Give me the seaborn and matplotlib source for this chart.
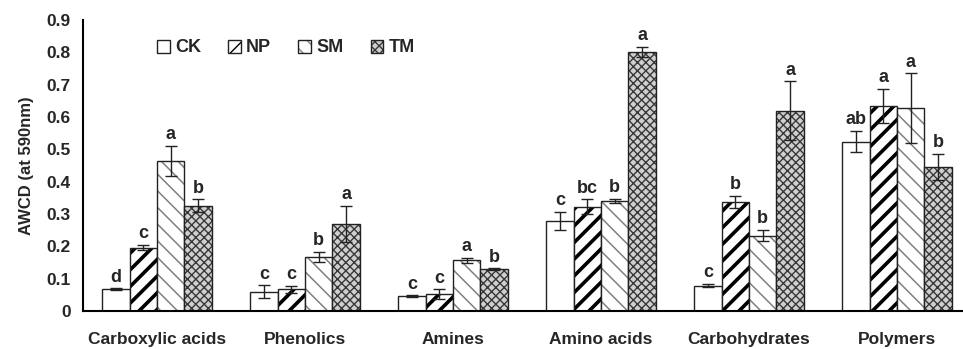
import pandas as pd
import seaborn as sns
import matplotlib.pyplot as plt
from matplotlib.colors import to_rgba
from matplotlib.patches import Patch

# data
categories = ["Carboxylic acids", "Phenolics", "Amines", "Amino acids", "Carbohydrates", "Polymers"]
treatments = ["CK", "NP", "SM", "TM"]

ck_mean = [0.067, 0.060, 0.046, 0.278, 0.078, 0.524]
np_mean = [0.196, 0.067, 0.052, 0.323, 0.337, 0.634]
sm_mean = [0.464, 0.167, 0.157, 0.340, 0.233, 0.627]
tm_mean = [0.326, 0.270, 0.130, 0.802, 0.620, 0.446]

ck_err = [0.003, 0.019, 0.002, 0.029, 0.005, 0.033]
np_err = [0.008, 0.011, 0.015, 0.022, 0.019, 0.053]
sm_err = [0.047, 0.015, 0.007, 0.006, 0.018, 0.108]
tm_err = [0.019, 0.056, 0.002, 0.015, 0.090, 0.040]

ck_letters = ["d", "c", "c", "c", "c", "ab"]
np_letters = ["c", "c", "c", "bc", "b", "a"]
sm_letters = ["a", "b", "a", "b", "b", "a"]
tm_letters = ["b", "a", "b", "a", "a", "b"]

means = [ck_mean, np_mean, sm_mean, tm_mean]
errs = [ck_err, np_err, sm_err, tm_err]
letters = [ck_letters, np_letters, sm_letters, tm_letters]

# long format table for seaborn
rows = []
for t, m in zip(treatments, means):
    for c, v in zip(categories, m):
        rows.append({"category": c, "treatment": t, "awcd": v})
df = pd.DataFrame(rows)

sns.set_style("white")
plt.rcParams["font.family"] = ["Liberation Sans", "DejaVu Sans"]
plt.rcParams["font.weight"] = "bold"

# hatch styles per treatment: (face, hatch, hatch colour, hatch width)
styles = {
    "CK": ("white", "", "black", 1.0),
    "NP": ("white", "//", "black", 2.6),
    "SM": ("white", "\\\\", "#808080", 1.1),
    "TM": ("#cfcfcf", "xxxx", "#383838", 1.0),
}

fig = plt.figure(figsize=(9.63, 3.49), dpi=100)
ax = fig.add_axes([83 / 963, 38 / 349, 880 / 963, 291 / 349])

sns.barplot(data=df, x="category", y="awcd", hue="treatment", order=categories,
            hue_order=treatments, width=0.74, errorbar=None, legend=False, ax=ax)

for t, cont, err, lab in zip(treatments, ax.containers, errs, letters):
    face, hatch, hcol, hlw = styles[t]
    xs, tops = [], []
    for p in cont.patches:
        p.set_facecolor(face)
        p.set_edgecolor("#222222")
        p.set_linewidth(1.0)
        p.set_hatch(hatch)
        p._hatch_color = to_rgba(hcol)
        if hasattr(p, "set_hatch_linewidth"):
            p.set_hatch_linewidth(hlw)
        xs.append(p.get_x() + p.get_width() / 2)
        tops.append(p.get_height())
    ax.errorbar(xs, tops, yerr=err, fmt="none", ecolor="#222222", elinewidth=1.0,
                capsize=4, capthick=1.0, zorder=5)
    for x, y, e, s in zip(xs, tops, err, lab):
        ax.annotate(s, (x, y + e), xytext=(0, 2), textcoords="offset points",
                    ha="center", va="bottom", fontsize=13, fontweight="bold")

ax.set_ylim(0, 0.9)
ax.set_xlim(-0.5, -0.5 + 880 / 148)
ax.set_yticks([i / 10 for i in range(10)])
ax.set_yticklabels(["0"] + ["%.1f" % (i / 10) for i in range(1, 10)], fontsize=12.5, fontweight="bold")
ax.set_xticks(range(len(categories)))
ax.set_xticklabels(categories, fontsize=12.5, fontweight="bold")
ax.tick_params(axis="x", which="major", length=0, pad=15)
ax.set_xticks([i + 0.5 for i in range(len(categories) - 1)], minor=True)
ax.tick_params(axis="x", which="minor", direction="in", length=5, width=1.5, color="black")
ax.tick_params(axis="y", direction="out", length=5, width=1.5, color="black", pad=4)
ax.set_xlabel("")
ax.set_ylabel("AWCD (at 590nm)", fontsize=12, fontweight="bold", labelpad=9)

sns.despine(ax=ax)
for s in ["left", "bottom"]:
    ax.spines[s].set_linewidth(1.5)
    ax.spines[s].set_color("black")

handles = []
for t in treatments:
    face, hatch, hcol, hlw = styles[t]
    h = Patch(facecolor=face, edgecolor="#222222", hatch=hatch, linewidth=1.0, label=t)
    h._hatch_color = to_rgba(hcol)
    handles.append(h)
ax.legend(handles=handles, loc="center left", bbox_to_anchor=(74 / 880, (311 - 48) / 291),
          ncol=4, frameon=False, borderpad=0, borderaxespad=0, handlelength=0.7,
          handleheight=0.7, handletextpad=0.3, columnspacing=1.5,
          prop={"size": 13, "weight": "bold"})

fig.savefig("out.png", dpi=100)
